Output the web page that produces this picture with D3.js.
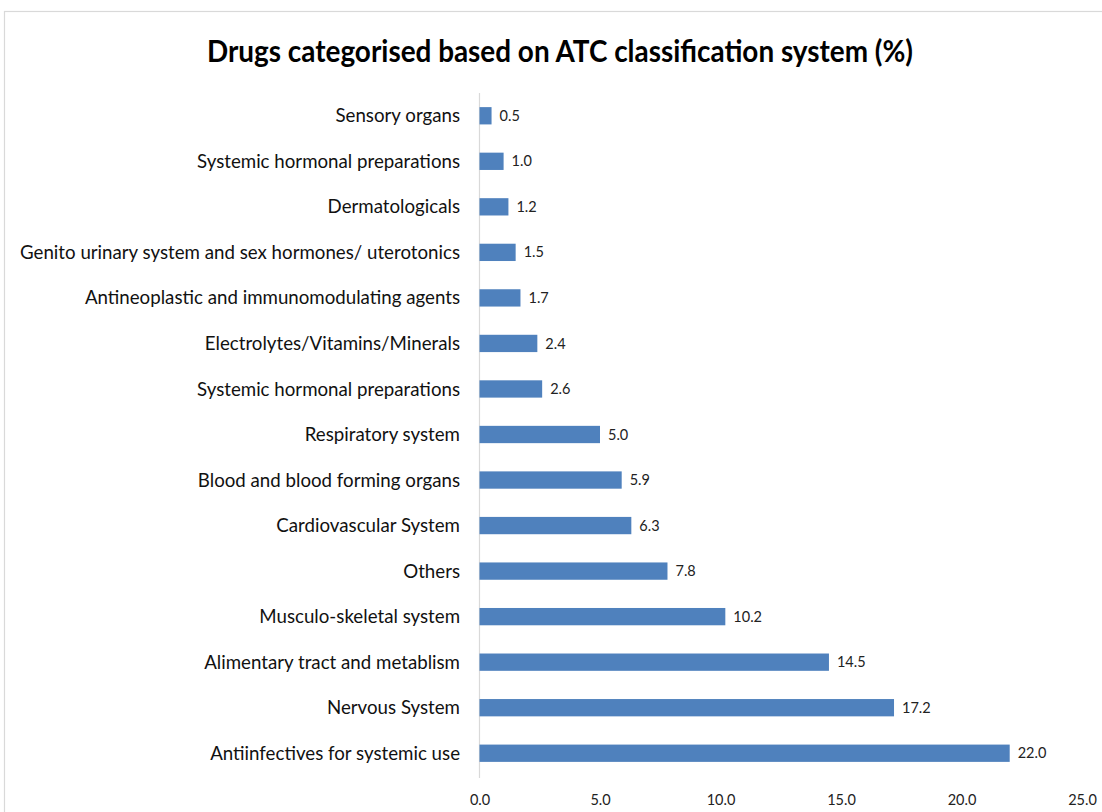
<!DOCTYPE html>
<html>
<head>
<meta charset="utf-8">
<script src="https://cdn.jsdelivr.net/npm/d3@7"></script>
<style>
  html, body { margin: 0; padding: 0; background: #fff; }
  svg { display: block; }
</style>
</head>
<body>
<svg id="chart" width="1102" height="812"></svg>
<script>
// ATC drug categories (top to bottom) and their share in percent
const categories = [
  "Sensory organs",
  "Systemic hormonal preparations",
  "Dermatologicals",
  "Genito urinary system and sex hormones/ uterotonics",
  "Antineoplastic and immunomodulating agents",
  "Electrolytes/Vitamins/Minerals",
  "Systemic hormonal preparations ",
  "Respiratory system",
  "Blood and blood forming organs",
  "Cardiovascular System",
  "Others ",
  "Musculo-skeletal system",
  "Alimentary tract and metablism",
  "Nervous System",
  "Antiinfectives for systemic use"
];
const values = [0.5, 1.0, 1.2, 1.5, 1.7, 2.4, 2.6, 5.0, 5.9, 6.3, 7.8, 10.2, 14.5, 17.2, 22.0];
const xTicks = [0, 5, 10, 15, 20, 25];

const svg = d3.select("#chart");
const W = 1102, H = 812;
const font = "Lato, 'Open Sans', sans-serif";

// chart area frame
svg.append("rect")
  .attr("x", 4.5).attr("y", 11.5)
  .attr("width", W + 10).attr("height", H + 10)
  .attr("fill", "#fff")
  .attr("stroke", "#d9d9d9").attr("stroke-width", 1.2);

// title
svg.append("text")
  .attr("x", 560).attr("y", 62)
  .attr("text-anchor", "middle")
  .attr("font-family", font)
  .attr("font-weight", "bold")
  .attr("font-size", 30)
  .attr("textLength", 706)
  .attr("lengthAdjust", "spacingAndGlyphs")
  .attr("fill", "#000")
  .text("Drugs categorised based on ATC classification system (%)");

const x = d3.scaleLinear().domain([0, 25]).range([479.5, 1082]);
const y = d3.scaleBand()
  .domain(categories.map((c, i) => i))
  .range([93, 776])
  .paddingInner(0.62)
  .paddingOuter(0.31);

// category axis line
svg.append("line")
  .attr("x1", x(0)).attr("x2", x(0))
  .attr("y1", 93).attr("y2", 778)
  .attr("stroke", "#d9d9d9").attr("stroke-width", 1.2);

// bars
svg.append("g").selectAll("rect")
  .data(values)
  .join("rect")
  .attr("x", x(0))
  .attr("y", (d, i) => y(i))
  .attr("width", d => x(d) - x(0))
  .attr("height", y.bandwidth())
  .attr("fill", "#4f81bd");

// value labels
svg.append("g").selectAll("text")
  .data(values)
  .join("text")
  .attr("x", d => x(d) + 8)
  .attr("y", (d, i) => y(i) + y.bandwidth() / 2)
  .attr("dy", "0.35em")
  .attr("font-family", font)
  .attr("font-size", 14.5)
  .attr("fill", "#222")
  .text(d => d3.format(".1f")(d));

// category labels
svg.append("g").selectAll("text")
  .data(categories)
  .join("text")
  .attr("x", 460)
  .attr("y", (d, i) => y(i) + y.bandwidth() / 2)
  .attr("dy", "0.35em")
  .attr("text-anchor", "end")
  .attr("font-family", font)
  .attr("font-size", 18.7)
  .attr("fill", "#111")
  .text(d => d.trim());

// value axis (labels only, no line)
const xAxis = svg.append("g")
  .attr("transform", "translate(0,792)")
  .call(d3.axisBottom(x).tickValues(xTicks).tickFormat(d3.format(".1f")).tickSize(0));
xAxis.select(".domain").remove();
xAxis.selectAll("text")
  .attr("font-family", font)
  .attr("font-size", 14.5)
  .attr("fill", "#222");
</script>
</body>
</html>
